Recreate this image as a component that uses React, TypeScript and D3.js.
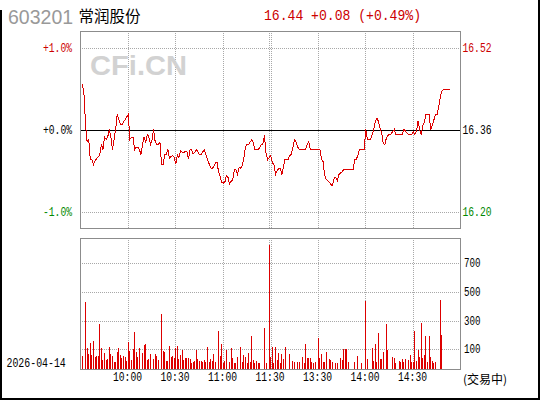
import React from 'react';
import * as d3 from 'd3';

const stockCode = '603201';
const stockName = '常润股份';
const tradeDate = '2026-04-14';
const statusText = '(交易中)';
const watermark = 'CFi.CN';
const prevClose = 16.36;
const quoteText = '16.44 +0.08 (+0.49%)';
const pctTicks = [1, 0, -1];
const pctTickLabels = ['+1.0%', '+0.0%', '-1.0%'];
const priceTickLabels = ['16.52', '16.36', '16.20'];
const timeTicks = [30, 60, 90, 120, 150, 180, 210];
const timeTickLabels = ['10:00', '10:30', '11:00', '11:30', '13:30', '14:00', '14:30'];
const volTicks = [100, 300, 500, 700];

const prices = [
  16.45, 16.43, 16.37, 16.335, 16.34, 16.30, 16.30, 16.29, 16.298, 16.302,
  16.305, 16.31, 16.33, 16.32, 16.345, 16.34, 16.345, 16.36, 16.345, 16.32,
  16.34, 16.36, 16.39, 16.38, 16.37, 16.37, 16.375, 16.38, 16.385, 16.39,
  16.34, 16.345, 16.345, 16.32, 16.325, 16.325, 16.32, 16.31, 16.33, 16.345,
  16.335, 16.35, 16.345, 16.33, 16.34, 16.36, 16.335, 16.33, 16.33, 16.335,
  16.29, 16.29, 16.31, 16.31, 16.32, 16.303, 16.306, 16.308, 16.305, 16.291,
  16.31, 16.304, 16.317, 16.315, 16.314, 16.316, 16.317, 16.301, 16.32, 16.32,
  16.311, 16.315, 16.32, 16.315, 16.31, 16.31, 16.315, 16.32, 16.31, 16.30,
  16.292, 16.284, 16.282, 16.286, 16.293, 16.295, 16.276, 16.266, 16.254, 16.253,
  16.255, 16.268, 16.264, 16.251, 16.257, 16.26, 16.28, 16.28, 16.27, 16.285,
  16.283, 16.288, 16.303, 16.326, 16.33, 16.33, 16.335, 16.34, 16.333, 16.32,
  16.32, 16.32, 16.324, 16.331, 16.331, 16.348, 16.313, 16.30, 16.304, 16.308,
  16.293, 16.29, 16.27, 16.278, 16.282, 16.282, 16.27, 16.286, 16.301, 16.301,
  16.301, 16.308, 16.311, 16.325, 16.34, 16.335, 16.325, 16.32, 16.32, 16.32,
  16.32, 16.32, 16.33, 16.336, 16.32, 16.32, 16.32, 16.32, 16.32, 16.32,
  16.32, 16.301, 16.296, 16.27, 16.26, 16.258, 16.255, 16.25, 16.248, 16.263,
  16.264, 16.258, 16.27, 16.273, 16.275, 16.28, 16.28, 16.28, 16.28, 16.28,
  16.28, 16.28, 16.30, 16.301, 16.308, 16.32, 16.32, 16.32, 16.32, 16.36,
  16.34, 16.341, 16.341, 16.35, 16.36, 16.376, 16.383, 16.376, 16.363, 16.353,
  16.333, 16.33, 16.343, 16.348, 16.351, 16.351, 16.356, 16.36, 16.35, 16.35,
  16.35, 16.35, 16.35, 16.36, 16.357, 16.353, 16.35, 16.35, 16.35, 16.356,
  16.35, 16.356, 16.377, 16.36, 16.35, 16.368, 16.375, 16.39, 16.39, 16.39,
  16.36, 16.369, 16.379, 16.39, 16.39, 16.403, 16.424, 16.436, 16.44, 16.44,
  16.44, 16.44, 16.44,
];

const volumes = [
  54, 0, 429, 111, 68, 146, 61, 157, 43, 54,
  56, 275, 111, 26, 75, 26, 33, 114, 68, 54,
  13, 13, 82, 111, 61, 36, 54, 43, 20, 151,
  89, 26, 102, 220, 82, 47, 109, 0, 75, 130,
  137, 26, 33, 68, 0, 33, 68, 54, 26, 0,
  344, 89, 82, 20, 20, 123, 47, 54, 40, 109,
  123, 33, 61, 95, 26, 40, 36, 36, 33, 6,
  13, 20, 95, 33, 20, 20, 13, 26, 13, 116,
  13, 33, 20, 68, 13, 0, 226, 54, 137, 6,
  20, 95, 0, 13, 109, 40, 6, 6, 47, 0,
  116, 13, 61, 47, 6, 75, 13, 192, 26, 6,
  20, 6, 6, 0, 0, 247, 6, 0, 831, 43,
  116, 6, 116, 26, 75, 6, 68, 33, 116, 0,
  0, 68, 0, 20, 13, 0, 8, 8, 0, 47,
  6, 137, 36, 40, 40, 8, 6, 8, 0, 178,
  40, 68, 8, 8, 82, 0, 33, 26, 8, 0,
  6, 6, 0, 40, 26, 102, 100, 102, 8, 0,
  0, 0, 8, 0, 54, 0, 6, 0, 0, 436,
  33, 0, 0, 109, 20, 137, 8, 213, 33, 33,
  82, 0, 275, 95, 0, 0, 47, 40, 6, 0,
  20, 8, 33, 8, 33, 0, 26, 61, 8, 8,
  226, 20, 95, 47, 282, 40, 61, 192, 8, 192,
  47, 20, 6, 13, 0, 0, 447, 199,
];

const RED = '#dd0000';
const TXT_RED = '#cc0000';
const GREEN = '#008800';
const GRID = '#a8a8a8';
const FRAME = '#8c8c8c';
const MONO = '"Liberation Mono", "DejaVu Sans Mono", monospace';

export default function App() {
  const W = 540, H = 400;
  const L = 80, R = 460, PT = 31, PB = 228, VT = 238, VB = 369;
  const x = d3.scaleLinear().domain([0, 240]).range([L, R]);
  const yPct = d3.scaleLinear().domain([-1, 1]).range([211.5, 47.5]);
  const yVol = d3.scaleLinear().domain([100, 700]).range([349.3, 263.3]);
  const toPct = (p: number) => ((p - prevClose) / prevClose) * 100;
  const line = d3
    .line<number>()
    .x((_, i) => x(i + 1.5))
    .y((p) => yPct(toPct(p)));
  const pctColor = (t: number) => (t > 0 ? TXT_RED : t < 0 ? GREEN : '#000');
  const cw = 5.8;

  const vGrid = (top: number, bottom: number) =>
    timeTicks.map((t, k) => {
      const gx = Math.round(x(t)) + 0.5;
      if (t === 120) {
        return (
          <g key={k}>
            <line x1={gx - 1} x2={gx - 1} y1={top} y2={bottom} stroke={GRID} strokeDasharray="1,1" />
            <line x1={gx + 1} x2={gx + 1} y1={top} y2={bottom} stroke={GRID} strokeDasharray="1,1" />
          </g>
        );
      }
      return <line key={k} x1={gx} x2={gx} y1={top} y2={bottom} stroke={GRID} strokeDasharray="1,1" />;
    });

  return (
    <svg
      width={W}
      height={H}
      style={{ position: 'absolute', left: 0, top: 0, background: '#fff' }}
      shapeRendering="crispEdges"
    >
      <rect x={0} y={0} width={W} height={H} fill="#fff" />
      {/* outer frame */}
      <path d="M1,10 L1,398.5 L538.5,398.5 L538.5,0" fill="none" stroke="#000" strokeWidth={2} />

      {/* header */}
      <text x={8} y={24} fontFamily='"Liberation Sans", Arial, sans-serif' fontSize={19.5} fill="#999">
        {stockCode}
      </text>
      <text x={78.5} y={22} fontFamily='"Noto Sans CJK SC", sans-serif' fontSize={15.5} fill="#000">
        {stockName}
      </text>
      <text x={264} y={20} fontFamily={MONO} fontSize={14.5} fill={TXT_RED} textLength={157} lengthAdjust="spacingAndGlyphs">
        {quoteText}
      </text>

      {/* price panel grid */}
      {vGrid(PT, PB)}
      {pctTicks.map((t, k) => {
        const gy = Math.round(yPct(t)) + 0.5;
        return t === 0 ? (
          <line key={k} x1={L} x2={R} y1={gy} y2={gy} stroke="#000" strokeWidth={1} />
        ) : (
          <line key={k} x1={L} x2={R} y1={gy} y2={gy} stroke={GRID} strokeDasharray="1,1" />
        );
      })}
      <text x={90} y={75} fontFamily='"Liberation Sans", Arial, sans-serif' fontWeight="bold" fontSize={28} fill="#d2d2d2" textLength={97} lengthAdjust="spacingAndGlyphs">
        {watermark}
      </text>
      <path d={line(prices) || ''} fill="none" stroke={RED} strokeWidth={1} />
      <rect x={L + 0.5} y={PT + 0.5} width={R - L} height={PB - PT} fill="none" stroke={FRAME} />

      {pctTicks.map((t, k) => (
        <text
          key={'l' + k}
          x={72}
          y={yPct(t) + 4}
          textAnchor="end"
          fontFamily={MONO}
          fontSize={12}
          fill={pctColor(t)}
          textLength={pctTickLabels[k].length * cw}
          lengthAdjust="spacingAndGlyphs"
        >
          {pctTickLabels[k]}
        </text>
      ))}
      {pctTicks.map((t, k) => (
        <text
          key={'r' + k}
          x={462.5}
          y={yPct(t) + 4}
          fontFamily={MONO}
          fontSize={12}
          fill={pctColor(t)}
          textLength={priceTickLabels[k].length * cw}
          lengthAdjust="spacingAndGlyphs"
        >
          {priceTickLabels[k]}
        </text>
      ))}

      {/* volume panel */}
      {vGrid(VT, VB)}
      {volTicks.map((t, k) => {
        const gy = Math.round(yVol(t)) + 0.5;
        return <line key={k} x1={L} x2={R} y1={gy} y2={gy} stroke={GRID} strokeDasharray="1,1" />;
      })}
      {volumes.map((v, i) =>
        v > 0 ? (
          <rect
            key={i}
            x={Math.floor(x(i + 1.5))}
            y={Math.round(yVol(v))}
            width={1}
            height={VB - Math.round(yVol(v))}
            fill={RED}
          />
        ) : null
      )}
      <rect x={L + 0.5} y={VT + 0.5} width={R - L} height={VB - VT} fill="none" stroke={FRAME} />
      {volTicks.map((t, k) => (
        <text
          key={k}
          x={464}
          y={yVol(t) + 4}
          fontFamily={MONO}
          fontSize={12}
          fill="#000"
          textLength={String(t).length * 5.5}
          lengthAdjust="spacingAndGlyphs"
        >
          {t}
        </text>
      ))}

      {/* time axis */}
      {timeTicks.map((t, k) => (
        <text
          key={k}
          x={x(t)}
          y={381}
          textAnchor="middle"
          fontFamily={MONO}
          fontSize={12}
          fill="#000"
          textLength={timeTickLabels[k].length * cw}
          lengthAdjust="spacingAndGlyphs"
        >
          {timeTickLabels[k]}
        </text>
      ))}
      <text x={6.5} y={367} fontFamily={MONO} fontSize={12} fill="#000" textLength={59.3} lengthAdjust="spacingAndGlyphs">
        {tradeDate}
      </text>
      <text x={463} y={383.5} fontFamily='"Noto Sans CJK SC", sans-serif' fontSize={12} fill="#000">
        {statusText}
      </text>
    </svg>
  );
}
